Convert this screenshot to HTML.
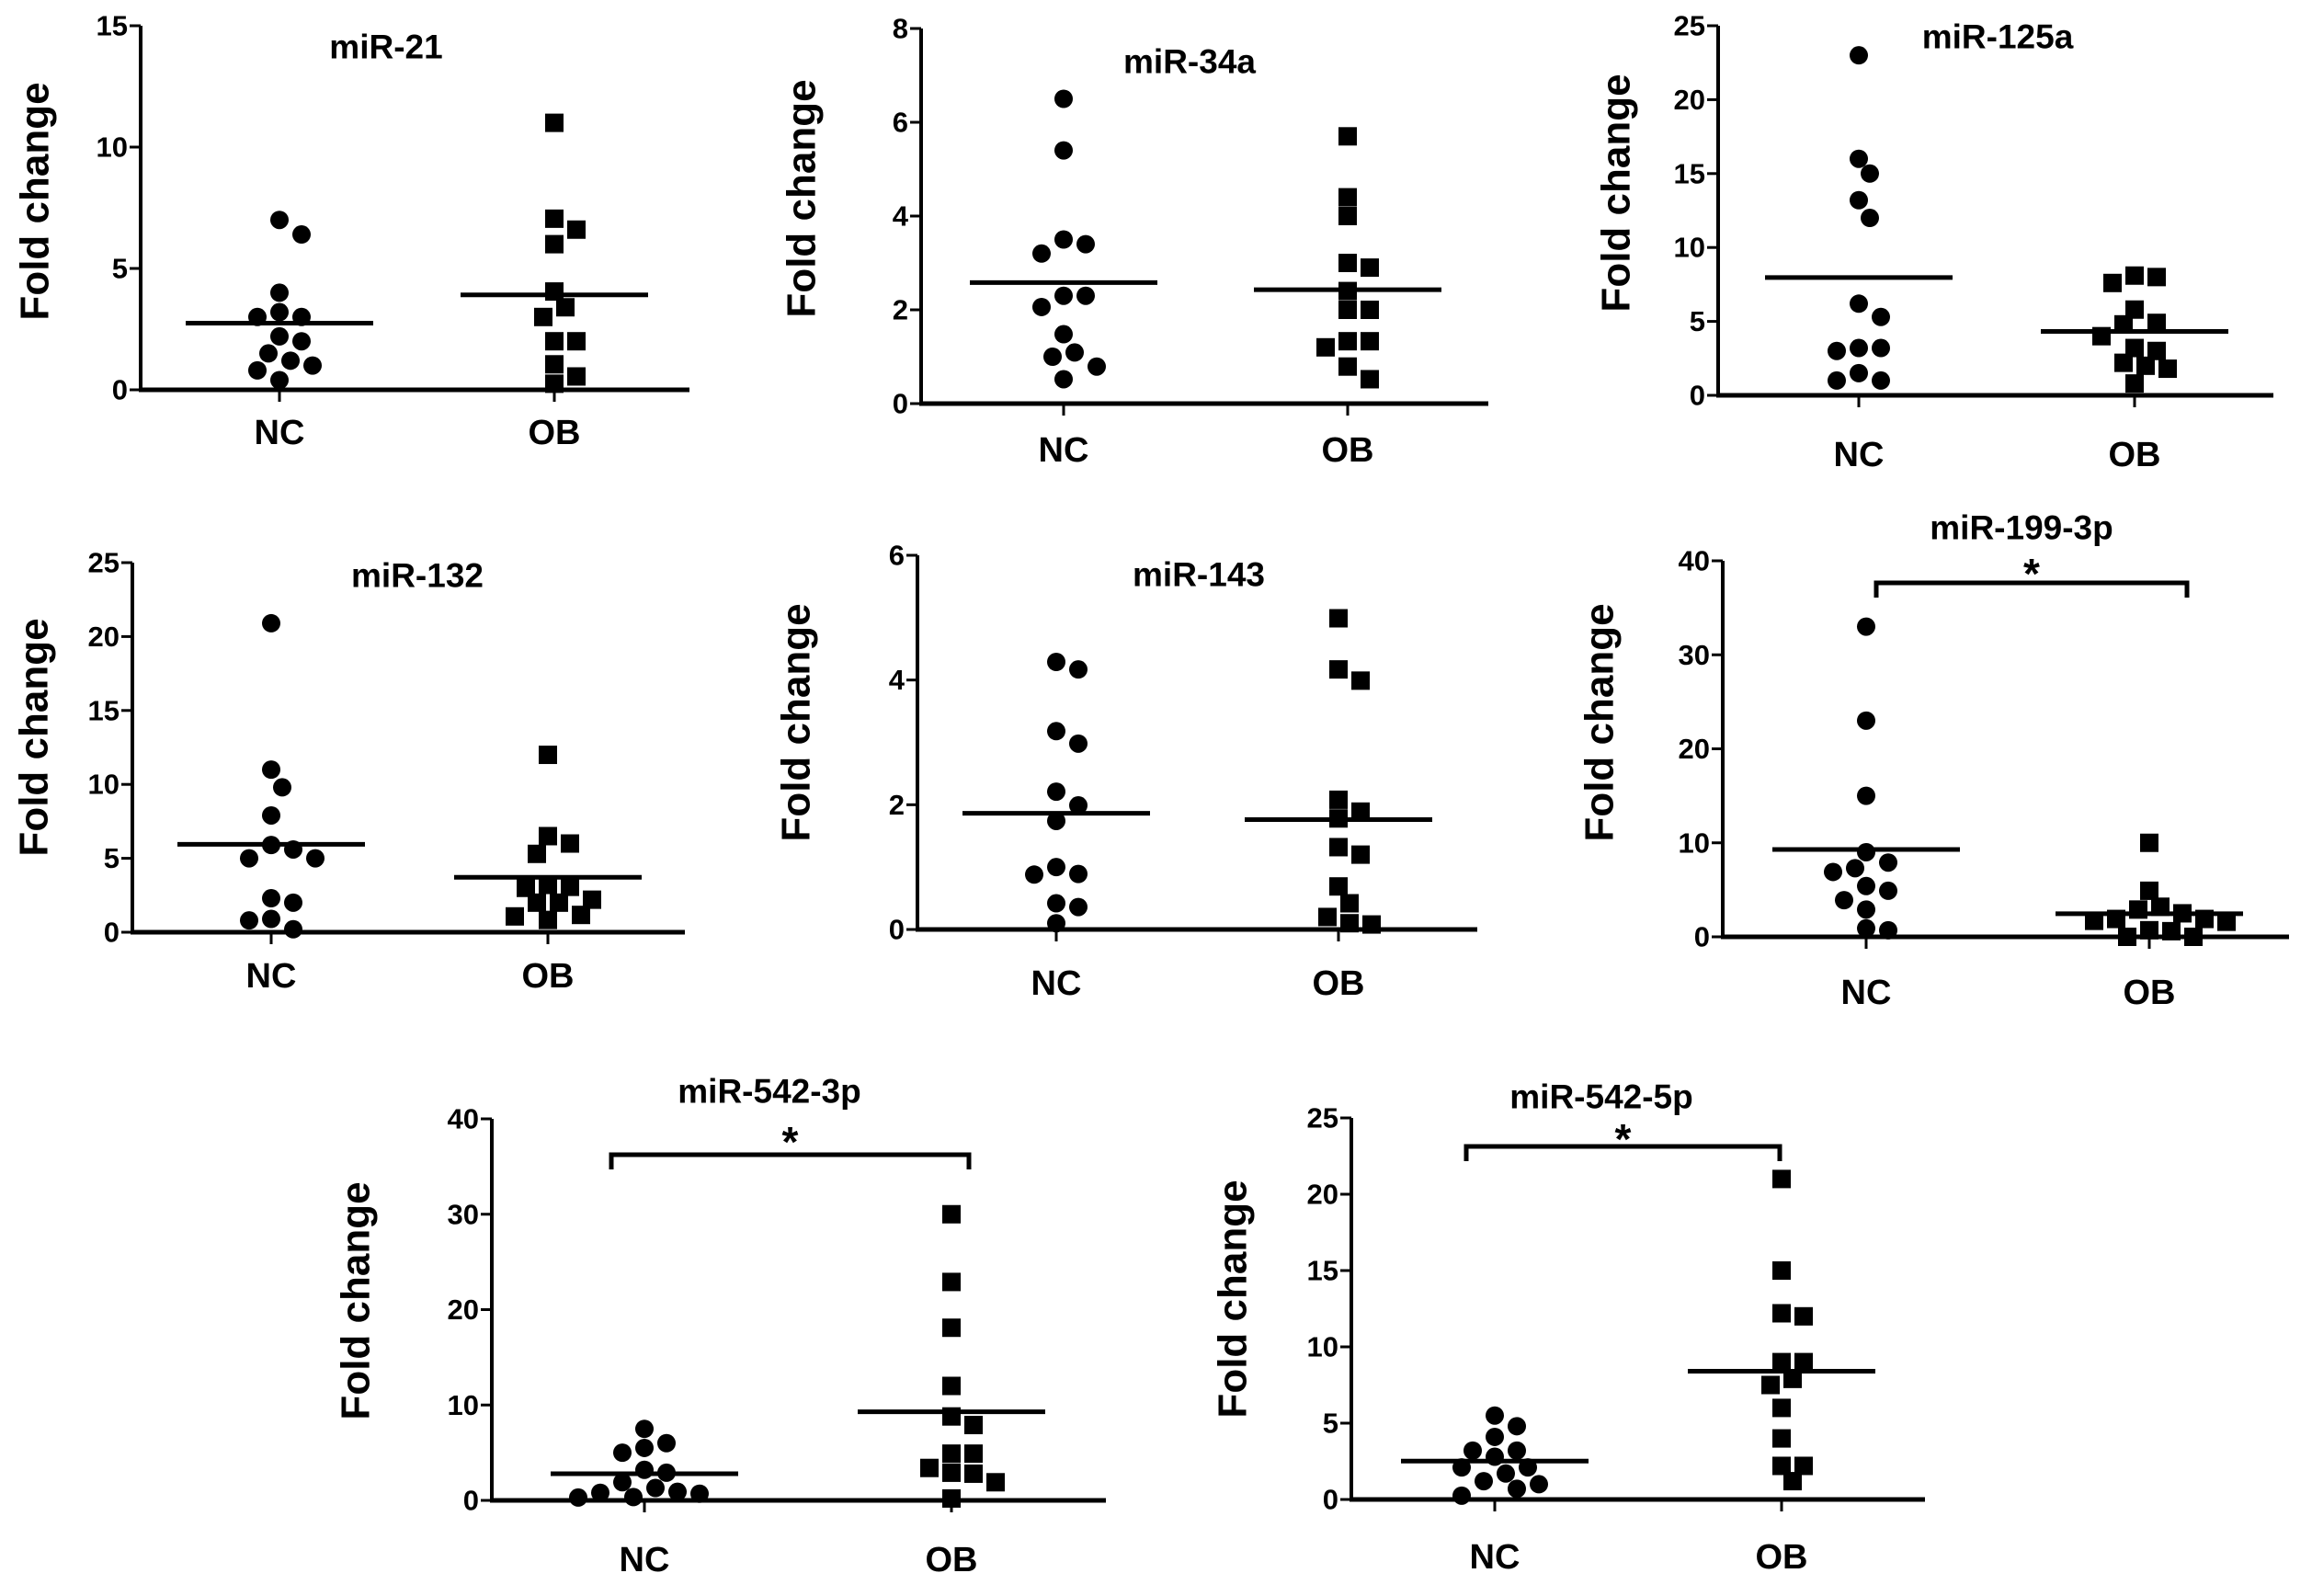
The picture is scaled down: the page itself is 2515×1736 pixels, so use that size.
<!DOCTYPE html>
<html><head><meta charset="utf-8"><style>
html,body{margin:0;padding:0;background:#fff;}
svg{display:block;font-family:"Liberation Sans",Arial,sans-serif;font-weight:bold;}
</style></head><body>
<svg id="fig" width="2515" height="1736" viewBox="0 0 2515 1736" xmlns="http://www.w3.org/2000/svg">
<rect width="2515" height="1736" fill="#fff"/>
</svg>
<script>
// ---- data ----
const titles = ["miR-21","miR-34a","miR-125a","miR-132","miR-143","miR-199-3p","miR-542-3p","miR-542-5p"];
const categories = ["NC","OB"];
const ncValues = [
 [7.0,6.4,4.0,3.2,3.0,3.0,2.2,2.0,1.5,1.2,1.0,0.8,0.4],
 [6.5,5.4,3.4,3.5,3.2,2.3,2.3,2.06,1.48,1.0,1.09,0.79,0.52],
 [23,16,15,13.2,12,6.2,5.3,3.2,3.0,3.2,1.5,1.0,1.0],
 [20.9,11,9.8,7.9,5.6,5.9,5,5,2.3,2.0,0.9,0.8,0.2],
 [4.29,4.17,3.18,2.98,2.21,1.99,1.74,1.0,0.89,0.88,0.42,0.36,0.1],
 [33,23,15,9,7.9,6.9,7.3,4.9,5.4,3.9,2.9,0.7,0.9],
 [7.5,5.5,6.0,5.0,3.2,2.9,1.9,0.9,0.7,0.35,0.3,0.8,1.3],
 [5.5,4.8,4.1,3.2,3.2,2.8,2.1,2.1,1.7,1.2,1.0,0.7,0.25]
];
const obValues = [
 [11.0,7.05,6.6,6.0,4.05,3.4,3.0,2.0,2.0,1.05,0.55,0.25],
 [5.7,4.4,4.0,3.0,2.9,2.4,2.0,2.0,1.33,1.33,1.2,0.79,0.52],
 [8.0,7.6,8.1,5.8,4.8,4.9,4.0,3.2,3.0,2.0,1.8,2.2,0.8],
 [12,6.5,6.0,5.3,3.07,3.0,3.2,2.0,2.0,2.2,1.17,0.83,1.07],
 [4.99,4.17,3.99,2.08,1.89,1.78,1.32,1.2,0.69,0.42,0.2,0.1,0.08],
 [10,4.9,3.2,2.9,2.5,1.9,1.6,0.6,0,0,0.7,1.7,1.9],
 [30,22.9,18.1,12,8.8,7.9,4.9,4.9,3.4,2.9,2.8,1.9,0.2],
 [21,15,12.2,12.0,9.0,9.0,7.9,7.5,6.0,4.0,2.2,2.2,1.2]
];
const yMax = [15,8,25,25,6,40,40,25];
const tickLabels = [
 [0,5,10,15],[0,2,4,6,8],[0,5,10,15,20,25],[0,5,10,15,20,25],
 [0,2,4,6],[0,10,20,30,40],[0,10,20,30,40],[0,5,10,15,20,25]
];
const significant = [false,false,false,false,false,true,true,true];

// ---- layout (pixel geometry per panel) ----
const L = [
 {ax:153,x1:750,top:28,zero:424,nc:304,ob:603,tx:420,ty:51,lx:38,ly:219,cy:471},
 {ax:1002,x1:1619,top:31,zero:439,nc:1157,ob:1466,tx:1294,ty:67,lx:872,ly:216,cy:490},
 {ax:1869,x1:2473,top:28,zero:430,nc:2022,ob:2322,tx:2173,ty:40,lx:1758,ly:210,cy:495},
 {ax:144,x1:745,top:612,zero:1014,nc:295,ob:596,tx:454,ty:626,lx:37,ly:802,cy:1062},
 {ax:998,x1:1607,top:604,zero:1011,nc:1149,ob:1456,tx:1304,ty:625,lx:866,ly:786,cy:1070},
 {ax:1874,x1:2490,top:610,zero:1019,nc:2030,ob:2338,tx:2199,ty:574,lx:1740,ly:786,cy:1080,br:634,bx0:2041,bx1:2379,sy:612},
 {ax:535,x1:1203,top:1217,zero:1632,nc:701,ob:1035,tx:837,ty:1187,lx:387,ly:1415,cy:1697,br:1256,bx0:665,bx1:1054,sy:1230},
 {ax:1470,x1:2094,top:1216,zero:1631,nc:1626,ob:1938,tx:1742,ty:1193,lx:1341,ly:1413,cy:1694,br:1247,bx0:1595,bx1:1936,sy:1227}
];

const NS="http://www.w3.org/2000/svg";
const svg=document.getElementById('fig');
function mk(tag,attrs,parent){const e=document.createElementNS(NS,tag);for(const k in attrs)e.setAttribute(k,attrs[k]);(parent||svg).appendChild(e);return e;}
const MS=20, STEP=12;

function swarm(vals,cx,yf){
  const order=vals.map((v,i)=>i).sort((a,b)=>vals[b]-vals[a]);
  const placed=[];const out=new Array(vals.length);
  order.forEach(i=>{
    const y=yf(vals[i]);
    const cands=[0];for(let k=1;k<8;k++){cands.push(k*STEP,-k*STEP);}
    for(const dx of cands){
      const x=cx+dx;
      if(placed.every(p=>Math.hypot(p[0]-x,p[1]-y)>=MS)){placed.push([x,y]);out[i]=[x,y];break;}
    }
    if(!out[i]){out[i]=[cx,y];placed.push([cx,y]);}
  });
  return out;
}

for(let p=0;p<8;p++){
  const g=L[p];
  const panel=mk('g',{});
  
  
  const yf=v=>g.zero-(v/yMax[p])*(g.zero-g.top);
  const ya=mk('line',{x1:g.ax,y1:g.top,x2:g.ax,y2:g.zero,stroke:'#000','stroke-width':4},panel);
  
  
  const xa=mk('line',{x1:g.ax-2,y1:g.zero,x2:g.x1,y2:g.zero,stroke:'#000','stroke-width':5},panel);
  
  
  tickLabels[p].forEach(t=>{
    const y=yf(t);
    const tk=mk('line',{x1:g.ax-12,y1:y,x2:g.ax,y2:y,stroke:'#000','stroke-width':3},panel);
    
    
    const tl=mk('text',{x:g.ax-14,y:y,'text-anchor':'end','dominant-baseline':'central','font-size':31},panel);
    tl.textContent=t;
    
    
  });
  const cxs=[g.nc,g.ob];
  categories.forEach((c,ci)=>{
    const tk=mk('line',{x1:cxs[ci],y1:g.zero,x2:cxs[ci],y2:g.zero+13,stroke:'#000','stroke-width':3},panel);
    
    
    const tl=mk('text',{x:cxs[ci],y:g.cy,'text-anchor':'middle','dominant-baseline':'central','font-size':38},panel);
    tl.textContent=c;
    
    
  });
  const tt=mk('text',{x:g.tx,y:g.ty,'text-anchor':'middle','dominant-baseline':'central','font-size':37},panel);
  tt.textContent=titles[p];
  
  
  const yl=mk('text',{x:0,y:0,'text-anchor':'middle','dominant-baseline':'central','font-size':44,transform:`translate(${g.lx},${g.ly}) rotate(-90)`},panel);
  yl.textContent='Fold change';
  
  
  const series=[ncValues[p],obValues[p]];
  series.forEach((vals,si)=>{
    const pts=swarm(vals,cxs[si],yf);
    pts.forEach(([x,y])=>{
      let m;
      if(si===0){
        m=mk('circle',{cx:x,cy:y,r:MS/2,fill:'#000'},panel);
        
      } else {
        m=mk('rect',{x:x-MS/2,y:y-MS/2,width:MS,height:MS,fill:'#000'},panel);
        
      }
      
    });
    const mean=vals.reduce((a,b)=>a+b,0)/vals.length;
    const my=yf(mean);
    const ml=mk('line',{x1:cxs[si]-102,y1:my,x2:cxs[si]+102,y2:my,stroke:'#000','stroke-width':5},panel);
    
    
  });
  if(significant[p]){
    const b=mk('path',{d:`M${g.bx0},${g.br+16} L${g.bx0},${g.br} L${g.bx1},${g.br} L${g.bx1},${g.br+16}`,fill:'none',stroke:'#000','stroke-width':5},panel);
    
    
    const s=mk('text',{x:(g.bx0+g.bx1)/2,y:g.sy+12,'text-anchor':'middle','dominant-baseline':'central','font-size':46},panel);
    s.textContent='*';
    
    
  }
}
</script>
</body></html>
